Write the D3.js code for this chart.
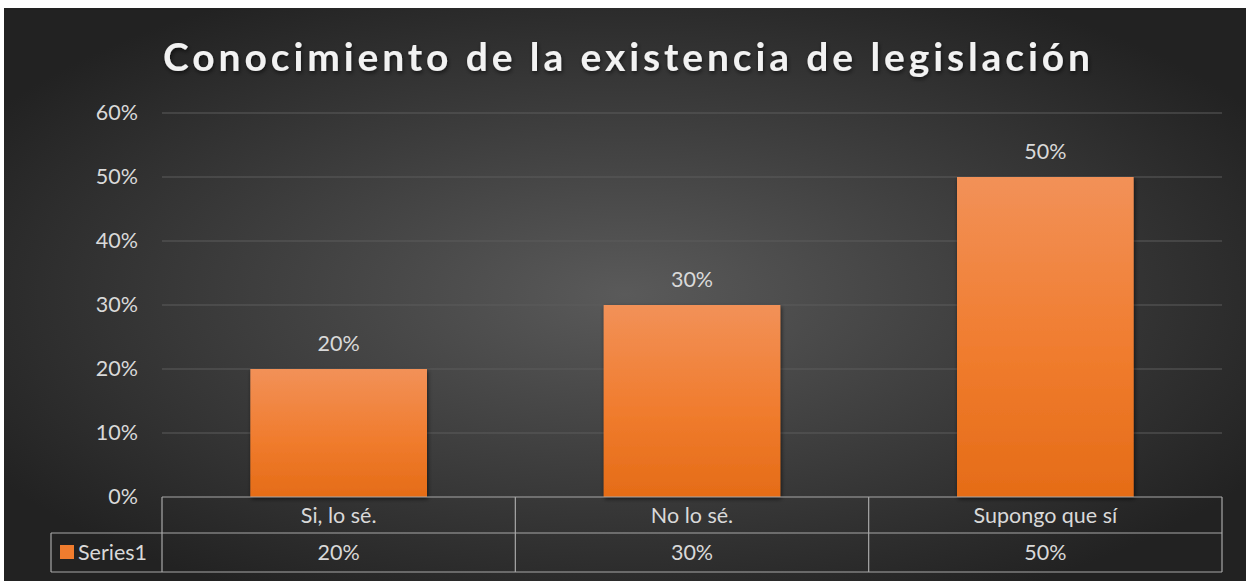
<!DOCTYPE html>
<html>
<head>
<meta charset="utf-8">
<script src="https://cdn.jsdelivr.net/npm/d3@7"></script>
<style>
  html, body { margin: 0; padding: 0; background: #ffffff; }
  svg { display: block; }
</style>
</head>
<body>
<svg></svg>
<script>
const categories = ['Si, lo sé.', 'No lo sé.', 'Supongo que sí'];
const values = [20, 30, 50];
const yTicks = [0, 10, 20, 30, 40, 50, 60];
const seriesName = 'Series1';
const title = 'Conocimiento de la existencia de legislación';

const width = 1246;
const height = 581;
const plotLeft = 162;
const plotRight = 1222;
const plotTop = 113;
const plotBottom = 497;
const rowMid = 533;
const tableBottom = 572;
const legendLeft = 51;

const font = 'Lato, "Open Sans", sans-serif';
const textColor = '#d9d9d9';
const fs = 21.5;

const svg = d3.select('svg')
  .attr('width', width)
  .attr('height', height);

const defs = svg.append('defs');

const bg = defs.append('radialGradient')
  .attr('id', 'bg')
  .attr('cx', '50%').attr('cy', '50%').attr('r', '60%');
bg.append('stop').attr('offset', '0%').attr('stop-color', '#5a5a5a');
bg.append('stop').attr('offset', '100%').attr('stop-color', '#222222');

const barGrad = defs.append('linearGradient')
  .attr('id', 'bar')
  .attr('x1', 0).attr('y1', 0).attr('x2', 0).attr('y2', 1);
barGrad.append('stop').attr('offset', '0%').attr('stop-color', '#f29158');
barGrad.append('stop').attr('offset', '55%').attr('stop-color', '#f07c2e');
barGrad.append('stop').attr('offset', '100%').attr('stop-color', '#e56c17');

const shadow = defs.append('filter').attr('id', 'shadow')
  .attr('x', '-10%').attr('y', '-30%').attr('width', '120%').attr('height', '160%');
shadow.append('feDropShadow')
  .attr('dx', 1).attr('dy', 2).attr('stdDeviation', 2)
  .attr('flood-color', '#000').attr('flood-opacity', 0.6);

// chart background (white strip top and left like the reference)
svg.append('rect')
  .attr('x', 4).attr('y', 8)
  .attr('width', width - 4).attr('height', height - 8)
  .attr('fill', 'url(#bg)');

// title
svg.append('text')
  .attr('x', 163)
  .attr('y', 71)
  .attr('textLength', 927)
  .attr('lengthAdjust', 'spacing')
  .attr('font-family', font)
  .attr('font-weight', 'bold')
  .attr('font-size', 39)
  .attr('fill', '#f2f2f2')
  .attr('filter', 'url(#shadow)')
  .text(title);

// scales
const x = d3.scaleBand()
  .domain(categories)
  .range([plotLeft, plotRight])
  .paddingInner(0)
  .paddingOuter(0);

const y = d3.scaleLinear()
  .domain([0, 60])
  .range([plotBottom, plotTop]);

// gridlines
svg.append('g')
  .selectAll('line')
  .data(yTicks.filter(d => d > 0))
  .enter()
  .append('line')
  .attr('x1', plotLeft)
  .attr('x2', plotRight)
  .attr('y1', d => y(d))
  .attr('y2', d => y(d))
  .attr('stroke', '#5c5c5c')
  .attr('stroke-width', 1);

// y axis
const yAxis = d3.axisLeft(y)
  .tickValues(yTicks)
  .tickFormat(d => d + '%')
  .tickSize(0)
  .tickPadding(0);

const yG = svg.append('g')
  .attr('transform', `translate(138, 0)`)
  .call(yAxis);
yG.select('.domain').remove();
yG.selectAll('text')
  .attr('font-family', font)
  .attr('font-size', fs)
  .attr('fill', textColor);

// bars
const barW = x.bandwidth() * 0.5;
svg.append('g')
  .selectAll('rect')
  .data(values)
  .enter()
  .append('rect')
  .attr('x', (d, i) => x(categories[i]) + (x.bandwidth() - barW) / 2)
  .attr('y', d => y(d))
  .attr('width', barW)
  .attr('height', d => y(0) - y(d))
  .attr('fill', 'url(#bar)')
  .attr('filter', 'url(#shadow)');

// data labels
svg.append('g')
  .selectAll('text')
  .data(values)
  .enter()
  .append('text')
  .attr('x', (d, i) => x(categories[i]) + x.bandwidth() / 2)
  .attr('y', d => y(d) - 18)
  .attr('text-anchor', 'middle')
  .attr('font-family', font)
  .attr('font-size', fs)
  .attr('fill', textColor)
  .text(d => d + '%');

// data table
const table = svg.append('g')
  .attr('stroke', '#a8a8a8')
  .attr('stroke-width', 1.2)
  .attr('fill', 'none');

table.append('line')
  .attr('x1', plotLeft).attr('x2', plotRight)
  .attr('y1', plotBottom).attr('y2', plotBottom);
table.append('line')
  .attr('x1', legendLeft).attr('x2', plotRight)
  .attr('y1', rowMid).attr('y2', rowMid);
table.append('line')
  .attr('x1', legendLeft).attr('x2', plotRight)
  .attr('y1', tableBottom).attr('y2', tableBottom);
table.append('line')
  .attr('x1', legendLeft).attr('x2', legendLeft)
  .attr('y1', rowMid).attr('y2', tableBottom);

const colEdges = categories.map(c => x(c)).concat([x.range()[1]]);
table.selectAll('line.col')
  .data(colEdges)
  .enter()
  .append('line')
  .attr('class', 'col')
  .attr('x1', d => d).attr('x2', d => d)
  .attr('y1', plotBottom).attr('y2', tableBottom);

svg.append('g')
  .selectAll('text')
  .data(categories)
  .enter()
  .append('text')
  .attr('x', d => x(d) + x.bandwidth() / 2)
  .attr('y', (plotBottom + rowMid) / 2)
  .attr('dy', '0.35em')
  .attr('text-anchor', 'middle')
  .attr('font-family', font)
  .attr('font-size', fs)
  .attr('fill', textColor)
  .text(d => d);

svg.append('g')
  .selectAll('text')
  .data(values)
  .enter()
  .append('text')
  .attr('x', (d, i) => x(categories[i]) + x.bandwidth() / 2)
  .attr('y', (rowMid + tableBottom) / 2)
  .attr('dy', '0.35em')
  .attr('text-anchor', 'middle')
  .attr('font-family', font)
  .attr('font-size', fs)
  .attr('fill', textColor)
  .text(d => d + '%');

// legend key
svg.append('rect')
  .attr('x', 60)
  .attr('y', 545)
  .attr('width', 14)
  .attr('height', 14)
  .attr('fill', '#f07c2e');
svg.append('text')
  .attr('x', 78)
  .attr('y', (rowMid + tableBottom) / 2)
  .attr('dy', '0.35em')
  .attr('font-family', font)
  .attr('font-size', fs)
  .attr('fill', textColor)
  .text(seriesName);
</script>
</body>
</html>
